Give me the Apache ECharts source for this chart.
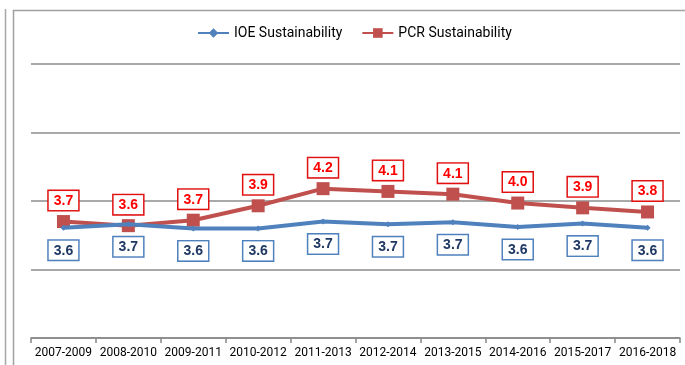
<!DOCTYPE html>
<html>
<head>
<meta charset="utf-8">
<script src="https://cdn.jsdelivr.net/npm/echarts@6/dist/echarts.min.js"></script>
<style>
  html, body { margin: 0; padding: 0; background: #fff; }
  #chart { width: 685px; height: 365px; }
</style>
</head>
<body>
<div id="chart"></div>
<script>
// Three-year rolling periods
const periods = ['2007-2009', '2008-2010', '2009-2011', '2010-2012', '2011-2013',
                 '2012-2014', '2013-2015', '2014-2016', '2015-2017', '2016-2018'];
// Average sustainability ratings per period
const ioeSustainability = [3.61, 3.66, 3.60, 3.60, 3.70, 3.66, 3.69, 3.62, 3.67, 3.61];
const pcrSustainability = [3.70, 3.64, 3.72, 3.93, 4.18, 4.14, 4.10, 3.97, 3.90, 3.84];

const fmt = p => p.value.toFixed(1);

const chart = echarts.init(document.getElementById('chart'), null, { renderer: 'canvas' });
chart.setOption({
  animation: false,
  backgroundColor: '#ffffff',
  graphic: [
    { type: 'line', shape: { x1: 5.5, y1: 9, x2: 5.5, y2: 365 },
      style: { stroke: '#a6a6a6', lineWidth: 1.5 }, silent: true },
    { type: 'rect', shape: { x: 13.5, y: 10.5, width: 700, height: 400 },
      style: { fill: 'none', stroke: '#a0a0a0', lineWidth: 1.5 }, silent: true }
  ],
  legend: {
    top: 21,
    left: 192,
    itemGap: 19,
    itemWidth: 31,
    itemHeight: 12,
    textStyle: { fontFamily: 'Roboto', fontSize: 14, color: '#000' },
    data: ['IOE Sustainability', 'PCR Sustainability']
  },
  grid: { left: 31, right: 5, top: 64, bottom: 27, containLabel: false },
  xAxis: {
    type: 'category',
    data: periods,
    boundaryGap: true,
    axisLine: { lineStyle: { color: '#868686', width: 1.5 } },
    axisTick: { show: true, length: 5, lineStyle: { color: '#868686', width: 1.5 } },
    axisLabel: { fontFamily: 'Roboto', fontSize: 12, color: '#000', margin: 9, interval: 0 }
  },
  yAxis: {
    type: 'value',
    min: 2, max: 6, interval: 1,
    axisLabel: { show: false },
    axisLine: { show: false },
    axisTick: { show: false },
    splitLine: { lineStyle: { color: '#8c8c8c', width: 1.5 } }
  },
  series: [
    {
      name: 'IOE Sustainability',
      type: 'line',
      data: ioeSustainability,
      symbol: 'diamond',
      symbolSize: 6,
      z: 3,
      lineStyle: { color: '#4f81bd', width: 4 },
      itemStyle: { color: '#4f81bd' },
      label: {
        show: true, position: 'bottom', distance: 10, formatter: fmt,
        fontFamily: 'Liberation Sans', fontWeight: 'bold', fontSize: 14, color: '#1f3864',
        backgroundColor: '#fff', borderColor: '#4f81bd', borderWidth: 1.5,
        padding: [3, 5, 2, 5]
      }
    },
    {
      name: 'PCR Sustainability',
      type: 'line',
      data: pcrSustainability,
      symbol: 'rect',
      symbolSize: 13,
      z: 2,
      lineStyle: { color: '#c0504d', width: 4 },
      itemStyle: { color: '#c0504d' },
      label: {
        show: true, position: 'top', distance: 5, formatter: fmt,
        fontFamily: 'Liberation Sans', fontWeight: 'bold', fontSize: 14, color: '#ff0000',
        backgroundColor: '#fff', borderColor: '#e01010', borderWidth: 1.5,
        padding: [3, 5, 2, 5]
      }
    }
  ]
});
</script>
</body>
</html>
